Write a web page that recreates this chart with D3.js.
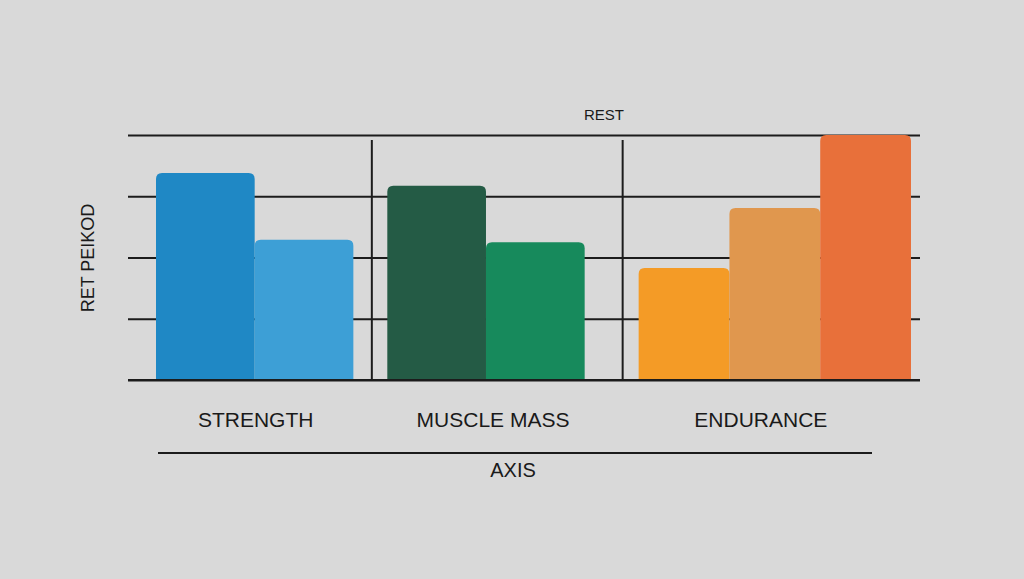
<!DOCTYPE html>
<html>
<head>
<meta charset="utf-8">
<script src="https://cdn.jsdelivr.net/npm/d3@7"></script>
<style>
  html, body { margin: 0; padding: 0; background: #d9d9d9; }
  svg { display: block; font-family: "Liberation Sans", Arial, sans-serif; }
</style>
</head>
<body>
<svg id="chart" width="1024" height="579"></svg>
<script>
// ---- data ----
const categories = ["STRENGTH", "MUSCLE MASS", "ENDURANCE"];
const strengthValues = [3.38, 2.29];
const muscleMassValues = [3.17, 2.25];
const enduranceValues = [1.83, 2.81, 4.0];
const yTicks = [0, 1, 2, 3, 4];
const titleText = "REST";
const yLabelText = "RET PEIKOD";
const xLabelText = "AXIS";

// ---- styles / layout ----
const colors = [
  ["#1f88c5", "#3d9fd6"],
  ["#245b45", "#178a5c"],
  ["#f49b26", "#e0974e", "#e8703a"]
];
const slotWidth = [1, 1, 0.92];    // relative bar width per group
const gapAfter = [0.344, 0.547];   // gap after each group (in slot units)
const values = [strengthValues, muscleMassValues, enduranceValues];

const svg = d3.select("#chart");
const W = 1024, H = 579;
svg.append("rect").attr("width", W).attr("height", H).attr("fill", "#d9d9d9");

const gridLeft = 128, gridRight = 920;
const barsLeft = 156, barsRight = 911;
const plotTop = 135, plotBottom = 380;

const y = d3.scaleLinear().domain([0, 4]).range([plotBottom, plotTop]);

const groupStarts = [];
let acc = 0;
values.forEach((v, i) => {
  groupStarts.push(acc);
  acc += v.length * slotWidth[i] + (i < values.length - 1 ? gapAfter[i] : 0);
});
const x = d3.scaleLinear().domain([0, acc]).range([barsLeft, barsRight]);
const groupEnd = i => groupStarts[i] + values[i].length * slotWidth[i];

// gridlines
const yAxis = d3.axisLeft(y).tickValues(yTicks).tickSize(-(gridRight - gridLeft)).tickFormat("");
const ga = svg.append("g").attr("transform", `translate(${gridLeft},0)`).call(yAxis);
ga.select(".domain").remove();
ga.selectAll(".tick line").attr("stroke", "#1c1c1c").attr("stroke-width", 2);

// vertical dividers between groups
const dividerOffset = [1.5, 11];
const dividerX = [];
for (let i = 1; i < values.length; i++) {
  dividerX.push((x(groupEnd(i - 1)) + x(groupStarts[i])) / 2 + dividerOffset[i - 1]);
}
svg.selectAll(".divider").data(dividerX).enter().append("line")
  .attr("x1", d => d).attr("x2", d => d)
  .attr("y1", plotTop + 5).attr("y2", plotBottom)
  .attr("stroke", "#1c1c1c").attr("stroke-width", 2);

function barPath(x0, x1, yt, yb, r) {
  r = Math.min(r, (x1 - x0) / 2, yb - yt);
  return `M${x0},${yb}L${x0},${yt + r}Q${x0},${yt} ${x0 + r},${yt}L${x1 - r},${yt}Q${x1},${yt} ${x1},${yt + r}L${x1},${yb}Z`;
}
values.forEach((vals, gi) => {
  vals.forEach((v, si) => {
    const s = groupStarts[gi] + si * slotWidth[gi];
    svg.append("path")
      .attr("d", barPath(x(s), x(s + slotWidth[gi]), y(v), y(0), 6))
      .attr("fill", colors[gi][si]);
  });
});

svg.append("line").attr("x1", gridLeft).attr("x2", gridRight)
  .attr("y1", y(0)).attr("y2", y(0)).attr("stroke", "#1c1c1c").attr("stroke-width", 2);

// category labels
const labelOffset = [1, 7, -14];
categories.forEach((c, gi) => {
  const cx = (x(groupStarts[gi]) + x(groupEnd(gi))) / 2;
  svg.append("text").attr("x", cx + labelOffset[gi]).attr("y", 427)
    .attr("text-anchor", "middle").attr("font-size", 21).attr("fill", "#1a1a1a").text(c);
});

svg.append("line").attr("x1", 158).attr("x2", 872).attr("y1", 453).attr("y2", 453)
  .attr("stroke", "#1c1c1c").attr("stroke-width", 2);
svg.append("text").attr("x", 513).attr("y", 477).attr("text-anchor", "middle")
  .attr("font-size", 20).attr("fill", "#1a1a1a").text(xLabelText);

svg.append("text").attr("x", 604).attr("y", 120).attr("text-anchor", "middle")
  .attr("font-size", 15).attr("fill", "#1a1a1a").text(titleText);

svg.append("text").attr("transform", "translate(94,258) rotate(-90)")
  .attr("text-anchor", "middle").attr("font-size", 18).attr("fill", "#1a1a1a").text(yLabelText);
</script>
</body>
</html>
